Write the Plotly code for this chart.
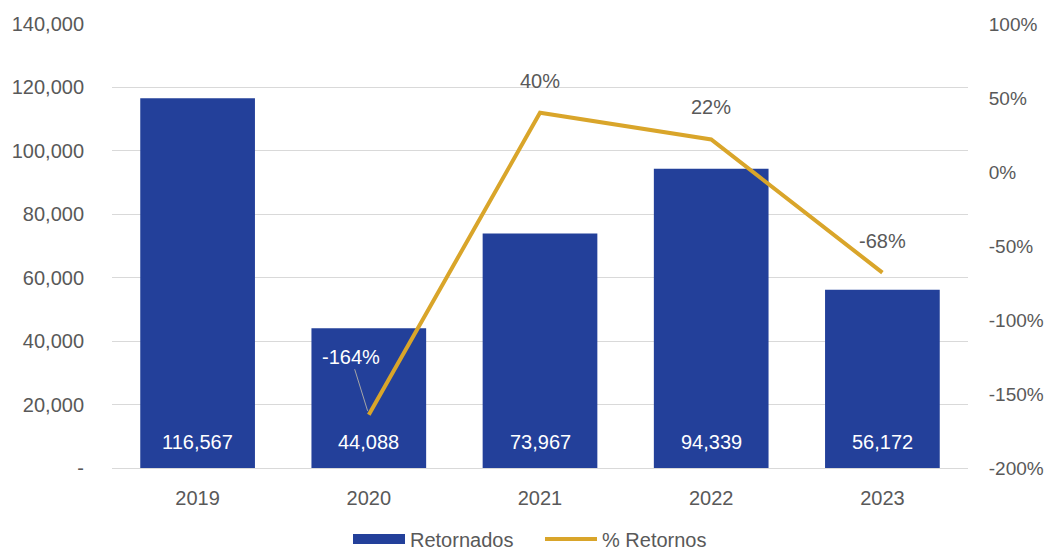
import plotly.graph_objects as go

years = ["2019", "2020", "2021", "2022", "2023"]
retornados = [116567, 44088, 73967, 94339, 56172]
pct_years = ["2020", "2021", "2022", "2023"]
pct_retornos = [-164, 40, 22, -68]

left_ticks = [0, 20000, 40000, 60000, 80000, 100000, 120000, 140000]
left_labels = ["-", "20,000", "40,000", "60,000", "80,000", "100,000", "120,000", "140,000"]
right_ticks = [-200, -150, -100, -50, 0, 50, 100]

FONT = "Arial, Liberation Sans, sans-serif"
GRAY = "#595959"
BLUE = "#23409A"
GOLD = "#D9A52A"
FS = 20

# category positions on the x axis
xpos = {y: i for i, y in enumerate(years)}
bar_x = [xpos[y] for y in years]
line_x = [xpos[y] for y in pct_years]

fig = go.Figure()
fig.add_trace(go.Bar(
    x=bar_x, y=retornados, name="Retornados", showlegend=False,
    marker=dict(color=BLUE, line=dict(width=0)),
))
# legend entry for the bars (wide rectangle swatch)
fig.add_trace(go.Scatter(
    x=[None], y=[None], name="Retornados", mode="lines",
    line=dict(color=BLUE, width=12), hoverinfo="skip",
))
fig.add_trace(go.Scatter(
    x=line_x, y=pct_retornos, name="% Retornos", yaxis="y2",
    mode="lines", line=dict(color=GOLD, width=4),
))

# value labels at the base of each bar
for x, v in zip(bar_x, retornados):
    fig.add_annotation(x=x, y=0, xref="x", yref="y", text=f"{v:,}",
                       showarrow=False, yshift=26,
                       font=dict(color="white", size=FS, family=FONT))

for x, v in zip(line_x, pct_retornos):
    if v == pct_retornos[0]:
        fig.add_annotation(x=x, y=v, xref="x", yref="y2", text=f"{v}%",
                           showarrow=True, arrowhead=0, arrowwidth=1, arrowcolor="#A6A6A6",
                           ax=-18, ay=-58, standoff=4,
                           font=dict(color="white", size=FS, family=FONT))
    else:
        fig.add_annotation(x=x, y=v, xref="x", yref="y2", text=f"{v}%",
                           showarrow=False, yshift=32,
                           font=dict(color=GRAY, size=FS, family=FONT))

fig.update_layout(
    width=1036, height=544,
    margin=dict(l=104, r=76, t=16, b=84, autoexpand=False),
    paper_bgcolor="white", plot_bgcolor="white",
    font=dict(family=FONT, color=GRAY, size=FS),
    bargap=0.33,
    showlegend=True,
    legend=dict(orientation="h", x=0.5, xanchor="center", y=-0.16, yanchor="middle",
                font=dict(size=FS, color=GRAY, family=FONT), traceorder="normal",
                itemwidth=52, entrywidth=125),
    xaxis=dict(range=[-0.5, len(years) - 0.5], tickvals=bar_x, ticktext=years,
               showgrid=False, showline=True, linecolor="#D9D9D9", linewidth=1,
               ticks="outside", ticklen=12, tickcolor="rgba(0,0,0,0)",
               tickfont=dict(size=FS, color=GRAY)),
    yaxis=dict(range=[0, 140000], tickvals=left_ticks, ticktext=left_labels,
               showgrid=True, gridcolor="#D9D9D9", gridwidth=1, zeroline=False,
               showline=False, ticks="outside", ticklen=23, tickcolor="rgba(0,0,0,0)",
               tickfont=dict(size=FS, color=GRAY)),
    yaxis2=dict(range=[-200, 100], tickvals=right_ticks,
                ticktext=[f"{t}%" for t in right_ticks],
                overlaying="y", side="right", showgrid=False, zeroline=False,
                showline=False, ticks="outside", ticklen=16, tickcolor="rgba(0,0,0,0)",
                tickfont=dict(size=19, color=GRAY)),
)

fig.write_html("out.html")
